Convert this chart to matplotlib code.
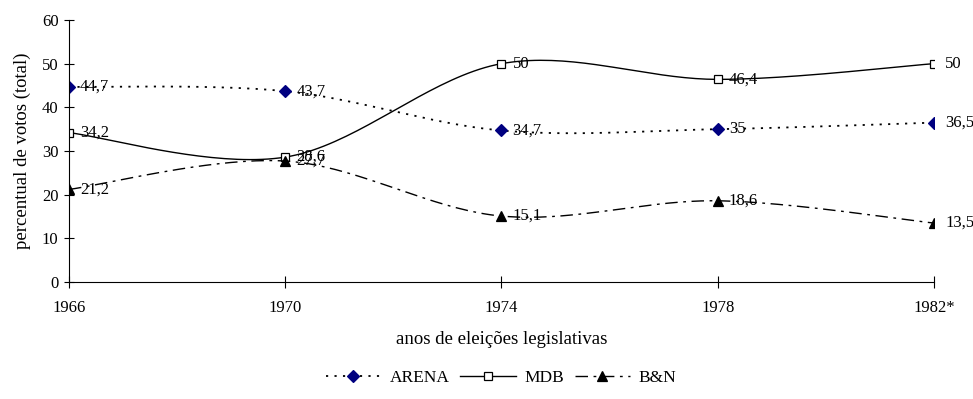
import numpy as np
import matplotlib.pyplot as plt

plt.rcParams['font.family'] = ['Liberation Serif', 'DejaVu Serif']

anos = ['1966', '1970', '1974', '1978', '1982*']
arena = [44.7, 43.7, 34.7, 35, 36.5]
mdb = [34.2, 28.6, 50, 46.4, 50]
bn = [21.2, 27.7, 15.1, 18.6, 13.5]


def suavizar(y, n=40):
    # curva suavizada estilo Excel (Catmull-Rom em forma de Bezier)
    y = np.asarray(y, float)
    x = np.arange(len(y), dtype=float)
    p = np.column_stack([x, y])
    p = np.vstack([p[0], p, p[-1]])
    t = np.linspace(0, 1, n)[:, None]
    pts = []
    for i in range(1, len(p) - 2):
        p0, p3 = p[i], p[i + 1]
        c1 = p0 + (p[i + 1] - p[i - 1]) / 6
        c2 = p3 - (p[i + 2] - p[i]) / 6
        seg = ((1 - t) ** 3) * p0 + 3 * ((1 - t) ** 2) * t * c1 + 3 * (1 - t) * t ** 2 * c2 + t ** 3 * p3
        pts.append(seg)
    pts = np.vstack(pts)
    return pts[:, 0], pts[:, 1]


fig = plt.figure(figsize=(9.73, 3.99), dpi=100)
ax = fig.add_axes([0.0709, 0.2932, 0.889, 0.6567])

series = [
    ('ARENA', arena, (0, (1.2, 3.5)), 'D', '#000080', '#000080', 6, 1.3),
    ('MDB', mdb, '-', 's', 'white', 'black', 6, 1.0),
    ('B&N', bn, (0, (9, 4, 2, 4)), '^', 'black', 'black', 6.5, 1.0),
]
x = np.arange(len(anos))
for nome, vals, ls, mk, fc, ec, ms, lw in series:
    xs, ys = suavizar(vals)
    ax.plot(xs, ys, color='black', lw=lw, linestyle=ls)
    ax.plot(x, vals, linestyle='none', marker=mk, markersize=ms,
            markerfacecolor=fc, markeredgecolor=ec, markeredgewidth=0.9)
    ax.plot([], [], color='black', lw=lw, linestyle=ls, marker=mk, markersize=ms,
            markerfacecolor=fc, markeredgecolor=ec, markeredgewidth=0.9, label=nome)
    for xi, v in zip(x, vals):
        txt = ('%g' % v).replace('.', ',')
        ax.annotate(txt, (xi, v), xytext=(8, 0), textcoords='offset points',
                    va='center', ha='left', fontsize=12)

ax.set_xlim(0, len(anos) - 1)
ax.set_ylim(0, 60)
ax.set_xticks(x)
ax.set_xticklabels(anos)
ax.set_yticks(range(0, 61, 10))
ax.tick_params(axis='x', direction='inout', length=8, width=0.8, labelsize=12, pad=9)
ax.tick_params(axis='y', direction='inout', length=7, width=0.8, labelsize=12, pad=4)
for s in ['top', 'right']:
    ax.spines[s].set_visible(False)
for s in ['left', 'bottom']:
    ax.spines[s].set_linewidth(0.8)
ax.set_xlabel('anos de eleições legislativas', fontsize=13.5, labelpad=11)
ax.set_ylabel('percentual de votos (total)', fontsize=13.5, labelpad=8)

fig.legend(loc='center', bbox_to_anchor=(0.515, 0.053), ncol=3, frameon=False,
           fontsize=12.5, handlelength=3.2, columnspacing=0.6, handletextpad=0.5)

fig.savefig('out.png', dpi=100)
